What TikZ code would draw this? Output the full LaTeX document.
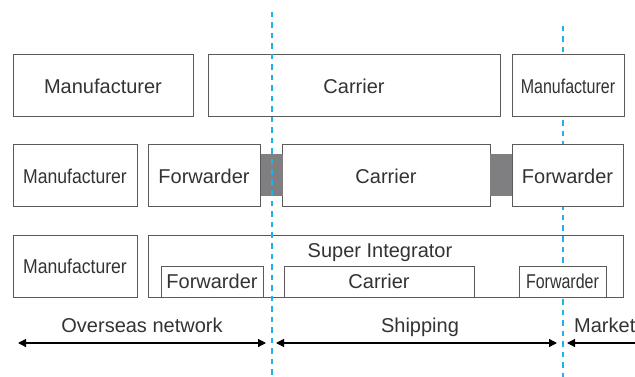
\documentclass[tikz,border=0pt]{standalone}
\usepackage{fontspec}
\setmainfont{Liberation Sans}
\usetikzlibrary{arrows.meta}
\definecolor{boxGray}{HTML}{5A5A5A}
\definecolor{txtGray}{HTML}{333333}
\definecolor{linkGray}{HTML}{7F7F82}
\definecolor{borderBlue}{HTML}{1EB1EA}
% narrower set of a label, same height
\newcommand{\squeezed}[2]{\scalebox{#1}[1]{#2}}

\begin{document}
\begin{tikzpicture}[
  x=1pt, y=-1pt,
  font=\fontsize{20}{24}\selectfont, text=txtGray,
  box/.style={draw=boxGray, line width=1pt, fill=white, minimum height=62pt, inner sep=0pt},
  inbox/.style={box, minimum height=31pt},
  link/.style={fill=linkGray, inner sep=0pt, minimum width=22pt, minimum height=42pt},
  border/.style={draw=borderBlue, line width=2pt, dash pattern=on 5.5pt off 5pt},
  arr/.style={line width=1.2pt, draw=black, >={Triangle[length=8pt, width=8pt]}},
  lbl/.style={anchor=base, inner sep=0pt},
]
\useasboundingbox (0,0) rectangle (635,377);

% market border sits behind the boxes
\coordinate (mkTop) at (563,26);
\coordinate (mkBot) at (563,377);
\draw[border] (mkTop) -- (mkBot);

% row 1: separate parties
\node[box, minimum width=180pt] (man1) at (103,86) {Manufacturer};
\node[box, minimum width=292pt] (car1) at (354,86) {Carrier};
\node[box, minimum width=112pt] (man1r) at (568,86) {\squeezed{0.8}{Manufacturer}};

% row 2: forwarders at both ends
\node[box, minimum width=124pt] (man2) at (75,176) {\squeezed{0.88}{Manufacturer}};
\node[box, minimum width=112pt] (fwd2) at (204,176) {Forwarder};
\node[box, minimum width=208pt] (car2) at (386,176) {Carrier};
\node[box, minimum width=111pt] (fwd2r) at (567.5,176) {Forwarder};
\node[link] (lnk1) at (271.5,175) {};
\node[link] (lnk2) at (501,175) {};

% row 3: one integrator
\node[box, fill=none, minimum width=124pt] (man3) at (75,266) {\squeezed{0.88}{Manufacturer}};
\node[box, fill=none, minimum width=475pt] (sint) at (385.5,266) {};
\node[lbl] (sintLbl) at (380,258) {Super Integrator};
\node[inbox, minimum width=102pt] (fwd3) at (212,281.5) {Forwarder};
\node[inbox, minimum width=190pt] (car3) at (379,281.5) {Carrier};
\node[inbox, minimum width=87pt] (fwd3r) at (562.5,281.5) {\squeezed{0.8}{Forwarder}};

% overseas border on top
\coordinate (osTop) at (272,12);
\coordinate (osBot) at (272,377);
\draw[border] (osTop) -- (osBot);

% segments
\coordinate (a1) at (18,343);
\coordinate (a2) at (266,343);
\coordinate (b1) at (276,343);
\coordinate (b2) at (557,343);
\coordinate (c1) at (567,343);
\coordinate (c2) at (645,343);
\draw[arr, <->] (a1) -- (a2);
\draw[arr, <->] (b1) -- (b2);
\draw[arr, <-] (c1) -- (c2);
\node[lbl] (osLbl) at (142,332) {Overseas network};
\node[lbl] (shLbl) at (420,332) {Shipping};
\node[lbl, anchor=base west] (mkLbl) at (574,332) {Markets};
\end{tikzpicture}
\end{document}
